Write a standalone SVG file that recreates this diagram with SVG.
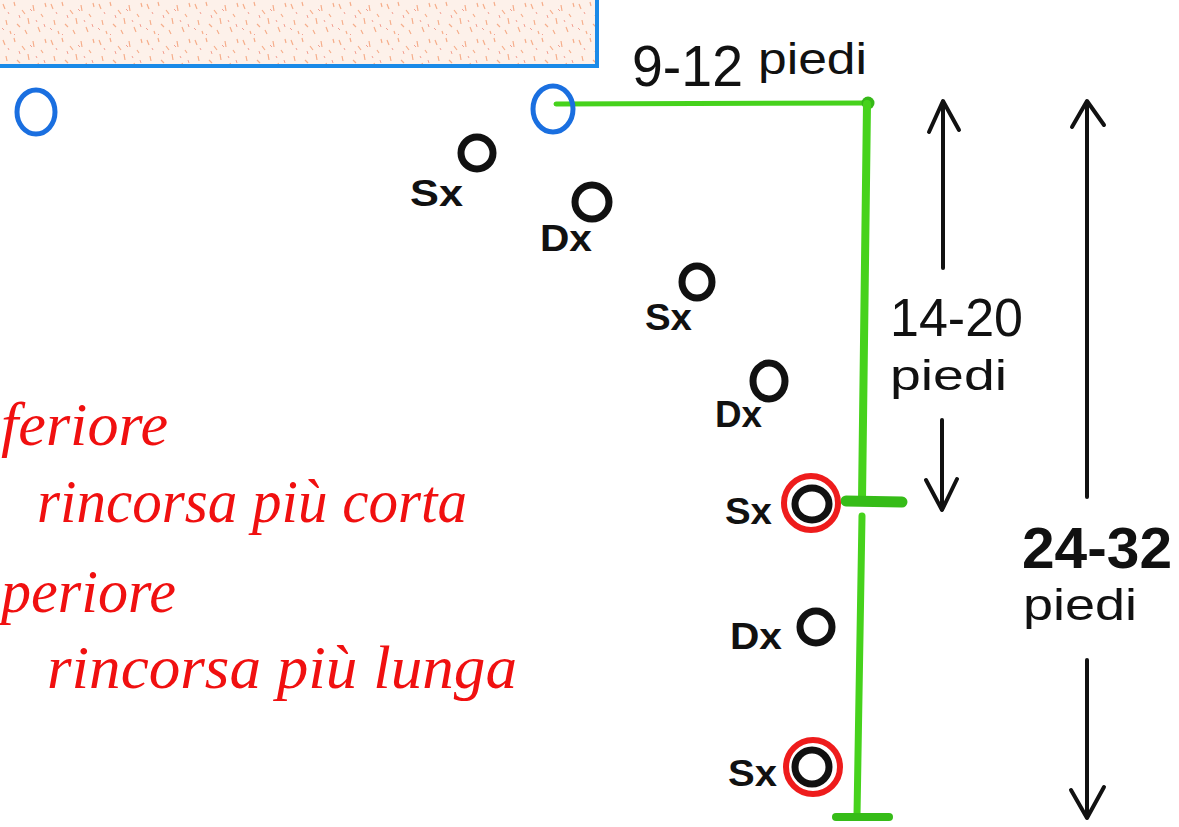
<svg xmlns="http://www.w3.org/2000/svg" width="1179" height="827" viewBox="0 0 1179 827">
<style>
.blue{fill:none;stroke:#1a6fe0;stroke-width:5}
.plr{fill:none;stroke:#111;stroke-width:7}
.ring{fill:none;stroke:#ee1c1c;stroke-width:6}
.lbl{font-family:"Liberation Sans",Arial,sans-serif;font-size:36px;font-weight:bold;fill:#111}
.dim{font-family:"Liberation Sans",Arial,sans-serif;fill:#111}
.red{font-family:"Liberation Serif","Times New Roman",serif;font-style:italic;font-size:62px;fill:#f01010}
.arr{fill:none;stroke:#111;stroke-width:4;stroke-linecap:round;stroke-linejoin:round}
.grn{fill:none;stroke:#46d21c;stroke-linecap:round}
</style>
<defs>
<pattern id="tex" width="48" height="36" patternUnits="userSpaceOnUse">
<rect width="48" height="36" fill="#fdf1ea"/>
<path d="M3 4l2 5M14 2l1 4M22 10l3 4M33 5l1 6M41 14l2 3M6 20l1 5M17 24l3 3M28 18l1 6M38 27l2 5M10 31l1 3M45 3l1 4M25 30l2 4" stroke="#f0763c" stroke-width="1.2" opacity="0.55"/>
<path d="M8 12l1 2M19 15l1 3M30 9l2 2M36 20l1 2M2 28l2 2M44 24l1 3M14 34l1 1" stroke="#e8503a" stroke-width="1" opacity="0.5"/>
</pattern>
</defs>
<rect width="1179" height="827" fill="#ffffff"/>

<g id="court">
<rect x="-5" y="-5" width="602" height="72" fill="url(#tex)"/>
<path d="M597 0 V66 H0" fill="none" stroke="#1a8ae8" stroke-width="4"/>
</g>

<g id="connectors">
<line class="grn" x1="556" y1="104" x2="868" y2="103" stroke-width="5"/>
<circle cx="868" cy="103" r="6.5" fill="#36b818"/>
<path class="grn" d="M867 104 L862 500" stroke-width="8"/>
<path class="grn" d="M862 516 L857 815" stroke-width="7"/>
<line x1="846" y1="501" x2="902" y2="502" stroke="#36bc18" stroke-width="11" stroke-linecap="round"/>
<line x1="836" y1="817" x2="889" y2="817" stroke="#36bc18" stroke-width="8" stroke-linecap="round"/>
<line class="arr" x1="943" y1="102" x2="943" y2="268"/>
<polyline class="arr" points="929,132 943,101 959,130"/>
<line class="arr" x1="942" y1="420" x2="942" y2="509"/>
<polyline class="arr" points="926,480 942,510 957,479"/>
<line class="arr" x1="1087" y1="102" x2="1087" y2="497"/>
<polyline class="arr" points="1072,127 1087,101 1104,125"/>
<line class="arr" x1="1087" y1="660" x2="1087" y2="817"/>
<polyline class="arr" points="1071,790 1087,818 1104,787"/>
</g>

<g id="cone-left"><ellipse class="blue" cx="36" cy="112" rx="19" ry="22"/></g>
<g id="cone-right"><ellipse class="blue" cx="553" cy="109" rx="20" ry="23"/></g>

<g id="p1"><ellipse class="plr" cx="477" cy="153" rx="16" ry="16"/><text class="lbl" x="410" y="206" textLength="53" lengthAdjust="spacingAndGlyphs">Sx</text></g>
<g id="p2"><ellipse class="plr" cx="592" cy="202" rx="17" ry="17" stroke-width="8"/><text class="lbl" x="540" y="251" textLength="52" lengthAdjust="spacingAndGlyphs">Dx</text></g>
<g id="p3"><ellipse class="plr" cx="697" cy="282" rx="15" ry="16"/><text class="lbl" x="645" y="330" textLength="47" lengthAdjust="spacingAndGlyphs">Sx</text></g>
<g id="p4"><ellipse class="plr" cx="769" cy="381" rx="16" ry="18" stroke-width="8"/><text class="lbl" x="715" y="427" textLength="47" lengthAdjust="spacingAndGlyphs">Dx</text></g>
<g id="p5"><circle class="ring" cx="811" cy="503" r="27"/><ellipse class="plr" cx="812" cy="504" rx="17" ry="16"/><text class="lbl" x="725" y="524" textLength="47" lengthAdjust="spacingAndGlyphs">Sx</text></g>
<g id="p6"><ellipse class="plr" cx="816" cy="627" rx="16" ry="16"/><text class="lbl" x="730" y="649" textLength="52" lengthAdjust="spacingAndGlyphs">Dx</text></g>
<g id="p7"><circle class="ring" cx="813" cy="767" r="27"/><ellipse class="plr" cx="812" cy="767" rx="17" ry="17"/><text class="lbl" x="728" y="786" textLength="49" lengthAdjust="spacingAndGlyphs">Sx</text></g>

<g id="labels">
<text class="dim" x="632" y="86" font-size="58" textLength="111" lengthAdjust="spacingAndGlyphs">9-12</text>
<text class="dim" x="758" y="74" font-size="44" textLength="109" lengthAdjust="spacingAndGlyphs">piedi</text>
<text class="dim" x="890" y="336" font-size="54" textLength="133" lengthAdjust="spacingAndGlyphs">14-20</text>
<text class="dim" x="890" y="390" font-size="42" textLength="117" lengthAdjust="spacingAndGlyphs">piedi</text>
<text class="dim" x="1022" y="568" font-size="58" font-weight="bold" textLength="150" lengthAdjust="spacingAndGlyphs">24-32</text>
<text class="dim" x="1023" y="620" font-size="44" textLength="114" lengthAdjust="spacingAndGlyphs">piedi</text>
</g>

<g id="notes">
<text class="red" x="1" y="445" font-size="62" textLength="167" lengthAdjust="spacingAndGlyphs">feriore</text>
<text class="red" x="37" y="522" font-size="60" textLength="430" lengthAdjust="spacingAndGlyphs">rincorsa più corta</text>
<text class="red" x="1" y="612" font-size="62" textLength="175" lengthAdjust="spacingAndGlyphs">periore</text>
<text class="red" x="47" y="688" font-size="60" textLength="470" lengthAdjust="spacingAndGlyphs">rincorsa più lunga</text>
</g>
</svg>
